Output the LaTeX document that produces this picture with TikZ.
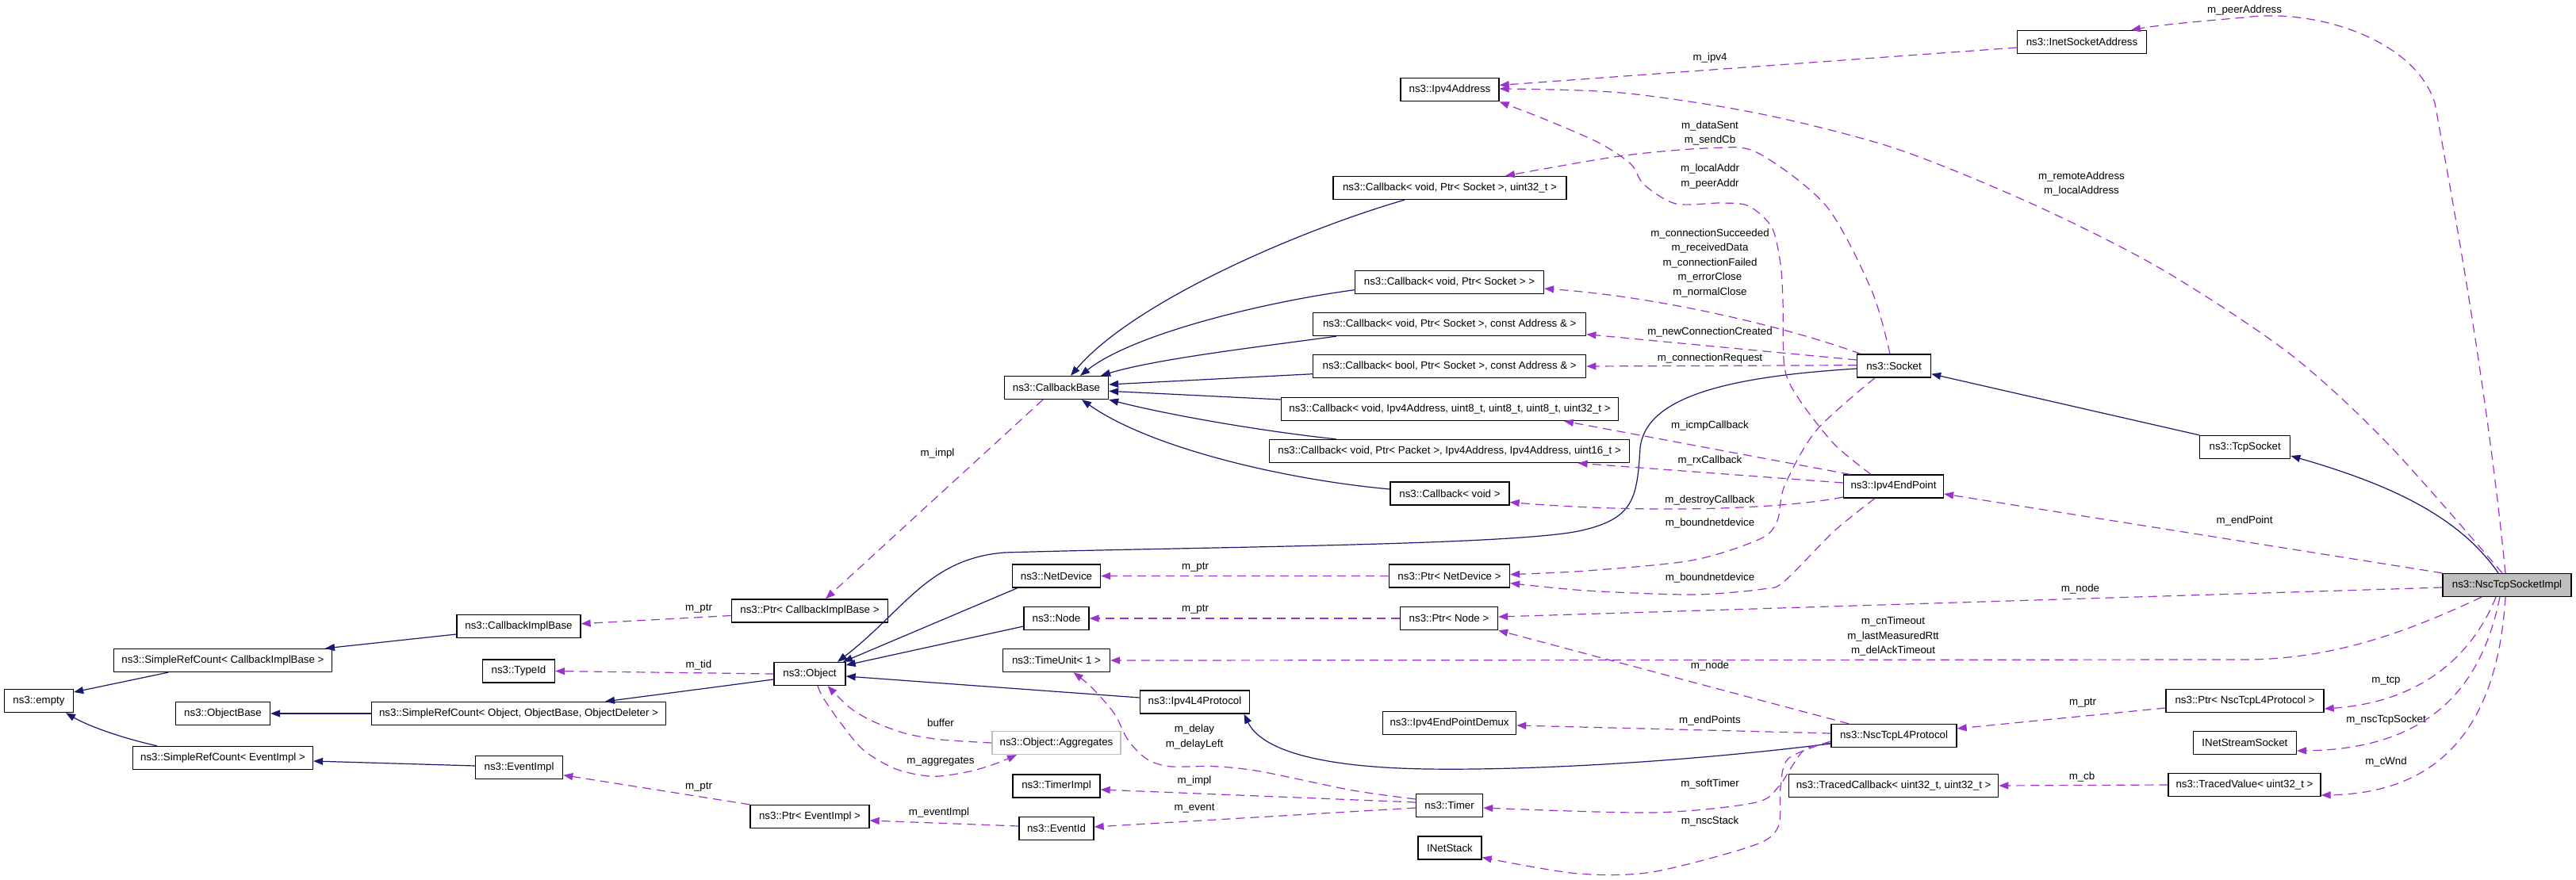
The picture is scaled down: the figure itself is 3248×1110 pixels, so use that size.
\documentclass[tikz,border=0pt]{standalone}
\usepackage{fontspec}
\setmainfont{Liberation Sans}
\usetikzlibrary{arrows.meta}
\definecolor{inhcol}{HTML}{191970}
\definecolor{usecol}{HTML}{9A32CD}
\definecolor{grayfill}{HTML}{BFBFBF}
\newcommand\dfont{\fontsize{13.3}{18.5}\selectfont}
\tikzset{
  cls/.style={draw=black, line width=1.3pt, fill=white, minimum height=29pt, inner sep=0pt, font=\dfont},
  inh/.style={draw=inhcol, line width=1.2pt, -{Triangle[length=12pt,width=9pt]}},
  use/.style={draw=usecol, line width=1.2pt, dash pattern=on 11pt off 7pt, -{Triangle[length=12pt,width=9pt]}},
  lbl/.style={font=\dfont, inner sep=0pt, align=center},
}
\begin{document}
\begin{tikzpicture}[x=1pt,y=-1pt]
\fill[white] (0,0) rectangle (3248,1110);
\useasboundingbox (0,0) rectangle (3248,1110);

% classes
\node[cls, minimum width=87] (empty) at (49,884) {ns3::empty};
\node[cls, minimum width=275] (srcCB) at (281,833) {ns3::SimpleRefCount< CallbackImplBase >};
\node[cls, minimum width=156] (cbImplBase) at (654,790) {ns3::CallbackImplBase};
\node[cls, minimum width=91] (typeId) at (654,846.5) {ns3::TypeId};
\node[cls, minimum width=119] (objectBase) at (281,900) {ns3::ObjectBase};
\node[cls, minimum width=371] (srcObj) at (654,900) {ns3::SimpleRefCount< Object, ObjectBase, ObjectDeleter >};
\node[cls, minimum width=227] (srcEv) at (281,956) {ns3::SimpleRefCount< EventImpl >};
\node[cls, minimum width=110] (eventImpl) at (654.6,968) {ns3::EventImpl};
\node[cls, minimum width=197] (ptrCBIB) at (1021,770.5) {ns3::Ptr< CallbackImplBase >};
\node[cls, minimum width=90] (object) at (1021,850) {ns3::Object};
\node[cls, minimum width=111] (netDevice) at (1332,726.5) {ns3::NetDevice};
\node[cls, minimum width=82] (node) at (1332,780) {ns3::Node};
\node[cls, minimum width=135] (timeUnit) at (1332,833) {ns3::TimeUnit< 1 >};
\node[cls, minimum width=138] (ipv4L4) at (1506.5,885.5) {ns3::Ipv4L4Protocol};
\node[cls, draw=grayfill, minimum width=162] (aggregates) at (1332,937) {ns3::Object::Aggregates};
\node[cls, minimum width=110] (timerImpl) at (1332,991.5) {ns3::TimerImpl};
\node[cls, minimum width=150] (ptrEv) at (1021,1030) {ns3::Ptr< EventImpl >};
\node[cls, minimum width=94] (eventId) at (1332,1045) {ns3::EventId};
\node[cls, minimum width=131] (callbackBase) at (1332,489) {ns3::CallbackBase};
\node[cls, minimum width=294] (cbSockU32) at (1828,237) {ns3::Callback< void, Ptr< Socket >, uint32\_t >};
\node[cls, minimum width=238] (cbSock) at (1827.5,356) {ns3::Callback< void, Ptr< Socket > >};
\node[cls, minimum width=344] (cbSockAddr) at (1827.7,409) {ns3::Callback< void, Ptr< Socket >, const Address \& >};
\node[cls, minimum width=344] (cbBoolSockAddr) at (1827.7,462) {ns3::Callback< bool, Ptr< Socket >, const Address \& >};
\node[cls, minimum width=425] (cbIcmp) at (1828,516) {ns3::Callback< void, Ipv4Address, uint8\_t, uint8\_t, uint8\_t, uint32\_t >};
\node[cls, minimum width=454] (cbRx) at (1827.6,569) {ns3::Callback< void, Ptr< Packet >, Ipv4Address, Ipv4Address, uint16\_t >};
\node[cls, minimum width=150] (cbVoid) at (1828,622.5) {ns3::Callback< void >};
\node[cls, minimum width=152] (ptrNetDevice) at (1827.5,726.6) {ns3::Ptr< NetDevice >};
\node[cls, minimum width=123] (ptrNode) at (1827,780) {ns3::Ptr< Node >};
\node[cls, minimum width=168] (demux) at (1827.6,912) {ns3::Ipv4EndPointDemux};
\node[cls, minimum width=84] (timer) at (1827.6,1016) {ns3::Timer};
\node[cls, minimum width=80] (inetStack) at (1828,1069.5) {INetStack};
\node[cls, minimum width=124] (ipv4Address) at (1828,113.3) {ns3::Ipv4Address};
\node[cls, minimum width=93] (socket) at (2388,461.5) {ns3::Socket};
\node[cls, minimum width=126] (ipv4EndPoint) at (2387.5,613.5) {ns3::Ipv4EndPoint};
\node[cls, minimum width=158] (nscL4) at (2388,928) {ns3::NscTcpL4Protocol};
\node[cls, minimum width=264] (tracedCb) at (2387.6,991) {ns3::TracedCallback< uint32\_t, uint32\_t >};
\node[cls, minimum width=163] (inetSockAddr) at (2625,53) {ns3::InetSocketAddress};
\node[cls, minimum width=114] (tcpSocket) at (2830.7,564) {ns3::TcpSocket};
\node[cls, fill=grayfill, minimum width=162] (nscImpl) at (3161,738) {ns3::NscTcpSocketImpl};
\node[cls, minimum width=199] (ptrNscL4) at (2830.5,884) {ns3::Ptr< NscTcpL4Protocol >};
\node[cls, minimum width=130] (inetStreamSock) at (2830.4,937) {INetStreamSocket};
\node[cls, minimum width=192] (tracedValue) at (2830,990) {ns3::TracedValue< uint32\_t >};

% labels
\node[lbl] (l1) at (881,768) {m\_ptr};
\node[lbl] (l2) at (881,839) {m\_tid};
\node[lbl] (l3) at (881,993) {m\_ptr};
\node[lbl] (l4) at (1182,572) {m\_impl};
\node[lbl] (l5) at (1186,912) {buffer};
\node[lbl] (l6) at (1186,961) {m\_aggregates};
\node[lbl] (l7) at (1184,1025) {m\_eventImpl};
\node[lbl] (l8) at (1507,716) {m\_ptr};
\node[lbl] (l9) at (1507,769) {m\_ptr};
\node[lbl] (l10) at (1506,929.5) {m\_delay\\m\_delayLeft};
\node[lbl] (l11) at (1506,985) {m\_impl};
\node[lbl] (l12) at (1506,1020) {m\_event};
\node[lbl] (l13) at (2156,72.7) {m\_ipv4};
\node[lbl] (l14) at (2156,168) {m\_dataSent\\m\_sendCb};
\node[lbl] (l15) at (2156,222.5) {m\_localAddr\\m\_peerAddr};
\node[lbl] (l16) at (2156,332) {m\_connectionSucceeded\\m\_receivedData\\m\_connectionFailed\\m\_errorClose\\m\_normalClose};
\node[lbl] (l17) at (2156,419) {m\_newConnectionCreated};
\node[lbl] (l18) at (2156,451.7) {m\_connectionRequest};
\node[lbl] (l19) at (2156,536.7) {m\_icmpCallback};
\node[lbl] (l20) at (2156,581) {m\_rxCallback};
\node[lbl] (l21) at (2156,630.8) {m\_destroyCallback};
\node[lbl] (l22) at (2156,659.5) {m\_boundnetdevice};
\node[lbl] (l23) at (2156,729) {m\_boundnetdevice};
\node[lbl] (l24) at (2156,840) {m\_node};
\node[lbl] (l25) at (2156,909) {m\_endPoints};
\node[lbl] (l26) at (2156,988.7) {m\_softTimer};
\node[lbl] (l27) at (2156,1036) {m\_nscStack};
\node[lbl] (l28) at (2387,802.6) {m\_cnTimeout\\m\_lastMeasuredRtt\\m\_delAckTimeout};
\node[lbl] (l29) at (2624.5,232) {m\_remoteAddress\\m\_localAddress};
\node[lbl] (l30) at (2830,13) {m\_peerAddress};
\node[lbl] (l31) at (2830,656.7) {m\_endPoint};
\node[lbl] (l32) at (2623,742.7) {m\_node};
\node[lbl] (l33) at (2626,886.7) {m\_ptr};
\node[lbl] (l34) at (2625,980) {m\_cb};
\node[lbl] (l35) at (3008.5,859) {m\_tcp};
\node[lbl] (l36) at (3008.5,908) {m\_nscTcpSocket};
\node[lbl] (l37) at (3008.5,960.7) {m\_cWnd};

% inheritance
\draw[inh] ([xshift=-69]srcCB.south) -- ([yshift=11]empty.east);
\draw[inh] ([xshift=-83]srcEv.north) .. controls (150,930) and (110,915) .. ([xshift=34]empty.south);
\draw[inh] ([yshift=-10]cbImplBase.west) -- ([xshift=129]srcCB.north);
\draw[inh] (srcObj.west) -- (objectBase.east);
\draw[inh] ([yshift=-7]object.west) -- ([xshift=109]srcObj.north);
\draw[inh] ([yshift=2]eventImpl.west) -- ([yshift=-4]srcEv.east);
\draw[inh] ([xshift=-49]netDevice.south) -- ([xshift=42]object.north);
\draw[inh] ([yshift=-10]node.west) -- ([yshift=11]object.east);
\draw[inh] ([yshift=5.5]ipv4L4.west) -- ([yshift=-3]object.east);
\draw[inh] ([yshift=-3.5]socket.west) .. controls (2180,475) and (2075,500) .. (2068,565) .. controls (2064,630) and (2060,655) .. (1990,670) .. controls (1900,688) and (1500,690) .. (1266,697) .. controls (1170,705) and (1140,770) .. ([xshift=35]object.north);
\draw[inh] ([yshift=-10]nscL4.west) .. controls (2150,958) and (1950,972) .. (1800,970) .. controls (1660,968) and (1590,945) .. ([xshift=62]ipv4L4.south);
\draw[inh] ([xshift=-57]cbSockU32.south) .. controls (1640,290) and (1430,380) .. ([xshift=18]callbackBase.north);
\draw[inh] ([yshift=-9.7]cbSock.west) .. controls (1600,380) and (1430,420) .. ([xshift=30]callbackBase.north);
\draw[inh] ([xshift=-143]cbSockAddr.south) .. controls (1600,436) and (1460,452) .. ([xshift=56]callbackBase.north);
\draw[inh] ([yshift=-9.7]cbBoolSockAddr.west) -- ([yshift=4]callbackBase.east);
\draw[inh] ([yshift=12]cbIcmp.west) -- ([yshift=-4.3]callbackBase.east);
\draw[inh] ([xshift=-143]cbRx.north) .. controls (1600,545) and (1480,525) .. (callbackBase.south east);
\draw[inh] ([yshift=5.5]cbVoid.west) .. controls (1620,605) and (1450,565) .. ([xshift=32]callbackBase.south);
\draw[inh] (tcpSocket.north west) -- ([yshift=-10.2]socket.east);
\draw[inh] ([xshift=-11]nscImpl.north) .. controls (3100,650) and (3010,610) .. ([yshift=-11]tcpSocket.east);

% usage
\draw[use] ([xshift=-2]nscImpl.north) .. controls (3135,480) and (3090,240) .. (3070,130) .. controls (3045,50) and (2920,10) .. (2830,22) .. controls (2760,28) and (2720,32) .. ([xshift=62]inetSockAddr.north);
\draw[use] plot[smooth] coordinates {([xshift=-6]nscImpl.north) (3011,560) (2886.7,446) (2724.5,339) (2562,257) (2389,187) (2216.6,143) (2044,117) ([yshift=1.3]ipv4Address.east)};
\draw[use] (nscImpl.north west) -- ([yshift=-9.5]ipv4EndPoint.east);
\draw[use] ([yshift=-3]nscImpl.west) -- ([yshift=2]ptrNode.east);
\draw[use] ([xshift=-32]nscImpl.south) .. controls (3050,790) and (2950,832) .. (2830,832) -- (timeUnit.east);
\draw[use] ([xshift=-14]nscImpl.south) .. controls (3120,820) and (3060,885) .. ([yshift=-10]ptrNscL4.east);
\draw[use] ([xshift=-9]nscImpl.south) .. controls (3130,860) and (3070,945) .. ([yshift=-10]inetStreamSock.east);
\draw[use] ([xshift=-2]nscImpl.south) .. controls (3150,900) and (3090,1000) .. ([yshift=-13]tracedValue.east);
\draw[use] plot[smooth] coordinates {([xshift=-5]socket.north) (2360,366.7) (2302.7,260) (2216.6,193) (2159,186.7) (2044,196.7) ([xshift=70]cbSockU32.north)};
\draw[use] ([xshift=-42]socket.north) .. controls (2260,415) and (2100,375) .. ([yshift=-8]cbSock.east);
\draw[use] ([yshift=7.5]socket.west) -- ([yshift=-12.7]cbSockAddr.east);
\draw[use] ([yshift=0.8]socket.west) -- (cbBoolSockAddr.east);
\draw[use] plot[smooth] coordinates {([xshift=-24]socket.south) (2290,543) (2250,613) (2241,656.7) (2218.8,680) (2134,706.7) (2000,720) ([yshift=2]ptrNetDevice.east)};
\draw[use] plot[smooth] coordinates {([xshift=-28.5]ipv4EndPoint.north) (2312.5,560) (2268,503) (2250,463) (2248,380) (2245,333) (2234,286.7) (2205,260) (2170.7,256) (2113,257) (2073,233) (2056,206.7) (2015.7,180) (1946.8,150) (ipv4Address.south east)};
\draw[use] ([xshift=-55]ipv4EndPoint.north) -- ([xshift=144]cbIcmp.south);
\draw[use] ([yshift=4.5]ipv4EndPoint.west) -- ([xshift=162]cbRx.south);
\draw[use] ([yshift=-13.5]ipv4EndPoint.west) .. controls (2250,642) and (2080,648) .. ([yshift=-11]cbVoid.east);
\draw[use] plot[smooth] coordinates {([xshift=-23.5]ipv4EndPoint.south) (2312.5,670) (2250,733) (2223,743) (2134,750) (2000,745) ([yshift=-9]ptrNetDevice.east)};
\draw[use] ([yshift=-7]inetSockAddr.west) -- ([yshift=5.8]ipv4Address.east);
\draw[use] ([xshift=-57]nscL4.north) -- (ptrNode.south east);
\draw[use] ([yshift=3]nscL4.west) -- ([yshift=-3]demux.east);
\draw[use] plot[smooth] coordinates {([yshift=-9]nscL4.west) (2274,946.7) (2242,993) (2210,1013) (2082.7,1025) ([yshift=-3]timer.east)};
\draw[use] plot[smooth] coordinates {([yshift=-7]nscL4.west) (2255,956.7) (2245,993) (2242,1043) (2210,1066.7) (2082.7,1100) (1987,1101.7) ([yshift=-12]inetStack.east)};
\draw[use] ([yshift=-9]ptrNscL4.west) -- ([yshift=9]nscL4.east);
\draw[use] (tracedValue.west) -- (tracedCb.east);
\draw[use] (ptrNetDevice.west) -- (netDevice.east);
\draw[use] (ptrNode.west) -- (node.east);
\draw[use] ([yshift=4]timer.west) -- ([yshift=-4.5]timerImpl.east);
\draw[use] ([yshift=-3]timer.west) -- ([yshift=2]eventId.east);
\draw[use] plot[smooth] coordinates {([yshift=8]timer.west) (1704,996.7) (1589,973) (1531,966.7) (1474,966.7) (1445,956.7) (1422,933) (1405,900) (1376,866.7) ([xshift=21.5]timeUnit.south)};
\draw[use] ([yshift=3]eventId.west) -- ([yshift=-5]ptrEv.east);
\draw[use] (ptrEv.north west) -- ([yshift=-9.7]eventImpl.east);
\draw[use] plot[smooth] coordinates {(aggregates.west) (1187,933) (1141,925) (1101,910) (1072,893) ([xshift=22.5]object.south)};
\draw[use] plot[smooth] coordinates {([xshift=10]object.south) (1037.8,880) (1060.7,913) (1089.4,946.7) (1129.6,970) (1175.5,979.3) (1221.5,973.3) (1256,963) ([xshift=-50]aggregates.south)};
\draw[use] (object.west) -- (typeId.east);
\draw[use] ([yshift=-6]ptrCBIB.west) -- ([yshift=3.3]cbImplBase.east);
\draw[use] ([xshift=-17]callbackBase.south) -- ([xshift=20]ptrCBIB.north);
\end{tikzpicture}
\end{document}
